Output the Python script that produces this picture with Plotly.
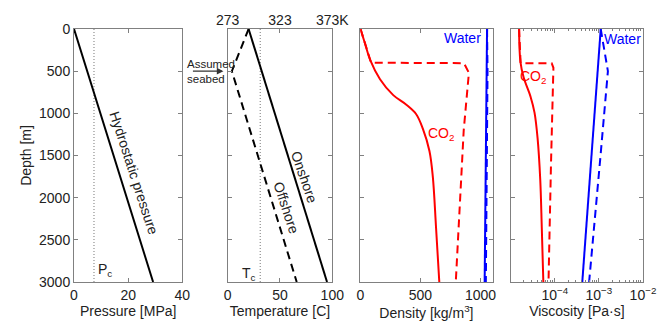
import plotly.graph_objects as go

# ---------------- data ----------------
depth_ticks = [0, 500, 1000, 1500, 2000, 2500, 3000]

# Panel 1: pressure
p_depth = [0, 3000]
p_hydro = [0, 29.2]
P_crit = 7.38

# Panel 2: temperature (C)
t_on_depth = [0, 3000]
t_on = [20, 95]
t_off_depth = [0, 500, 3000]
t_off = [20, 4, 66]
T_crit = 31.1
kelvin_ticks_c = [0, 50, 100]
kelvin_labels = ["273", "323", "373K"]

# Panel 3: density (kg/m3)
rho_co2_on_depth = [0, 180, 367, 595, 784, 898, 1011, 1182, 1447, 1750, 2356, 3000]
rho_co2_on = [2, 41, 82, 164, 274, 383, 465, 520, 575, 603, 630, 657]
rho_co2_off_depth = [0, 180, 367, 400, 405, 520, 1200, 2000, 3000]
rho_co2_off = [2, 41, 82, 90, 862, 903, 860, 828, 794]
rho_w_on_depth = [0, 3000]
rho_w_on = [1054, 1034]
rho_w_off_depth = [0, 500, 3000]
rho_w_off = [1054, 1058, 1044]

# Panel 4: viscosity (Pa s)
mu_co2_on_depth = [0, 386, 576, 803, 992, 1295, 1788, 2356, 3000]
mu_co2_on = [1.55e-5, 1.66e-5, 1.97e-5, 2.82e-5, 3.47e-5, 4.07e-5, 4.68e-5, 5.07e-5, 5.5e-5]
mu_co2_off_depth = [0, 386, 405, 405, 460, 1600, 3000]
mu_co2_off = [1.55e-5, 1.66e-5, 1.68e-5, 8.5e-5, 9.3e-5, 8.2e-5, 7.2e-5]
mu_w_on_depth = [0, 1000, 2000, 3000]
mu_w_on = [1.10e-3, 7.9e-4, 5.75e-4, 4.2e-4]
mu_w_off_depth = [0, 500, 1500, 2250, 3000]
mu_w_off = [1.10e-3, 1.6e-3, 1.09e-3, 8.1e-4, 6.0e-4]
mu_ticks = [1e-4, 1e-3, 1e-2]
mu_labels = ["10<sup>\u22124</sup>", "10<sup>\u22123</sup>", "10<sup>\u22122</sup>"]

# ---------------- style ----------------
FONT = "Liberation Sans, Arial, Helvetica, sans-serif"
TXT = "#222222"
AX = "#808080"
RED = "#ff0000"
BLUE = "#0000ff"
DASH = "8px,5px"
DOT = "1px,2px"
LW = 2

fig = go.Figure()


def line(x, y, xa, ya, color, dash="solid", width=LW, shape="linear"):
    fig.add_trace(go.Scatter(x=x, y=y, xaxis=xa, yaxis=ya, mode="lines",
                             line=dict(color=color, width=width, dash=dash, shape=shape),
                             hoverinfo="skip", showlegend=False))


# panel 1
line([P_crit, P_crit], p_depth, "x", "y", "#777777", dash=DOT, width=1)
line(p_hydro, p_depth, "x", "y", "black")

# panel 2
line([T_crit, T_crit], p_depth, "x2", "y2", "#777777", dash=DOT, width=1)
line(t_on, t_on_depth, "x2", "y2", "black")
line(t_off, t_off_depth, "x2", "y2", "black", dash=DASH)
fig.add_trace(go.Scatter(x=kelvin_ticks_c, y=[None] * len(kelvin_ticks_c), xaxis="x5", yaxis="y2",
                         mode="markers", marker=dict(opacity=0), hoverinfo="skip", showlegend=False))

# panel 3
line(rho_co2_on, rho_co2_on_depth, "x3", "y3", RED, shape="spline")
line(rho_co2_off, rho_co2_off_depth, "x3", "y3", RED, dash=DASH)
line(rho_w_on, rho_w_on_depth, "x3", "y3", BLUE)
line(rho_w_off, rho_w_off_depth, "x3", "y3", BLUE, dash=DASH)

# panel 4
line(mu_co2_on, mu_co2_on_depth, "x4", "y4", RED, shape="spline")
line(mu_co2_off, mu_co2_off_depth, "x4", "y4", RED, dash=DASH)
line(mu_w_on, mu_w_on_depth, "x4", "y4", BLUE)
line(mu_w_off, mu_w_off_depth, "x4", "y4", BLUE, dash=DASH)

# ---------------- layout ----------------
W, H = 672, 329
ML, MR, MT, MB = 74, 23, 26, 39
PW = W - ML - MR


def dom(a, b):
    return [(a - ML) / PW, (b - ML) / PW]


common_x = dict(showgrid=False, zeroline=False, showline=True, linecolor=AX, linewidth=1,
                mirror="ticks", ticks="inside", ticklen=4, tickcolor=AX,
                tickfont=dict(size=14, color=TXT, family=FONT),
                title_font=dict(size=14, color=TXT, family=FONT))
common_y = dict(range=[3000, 0], tickvals=depth_ticks, showgrid=False, zeroline=False,
                showline=True, linecolor=AX, linewidth=1, mirror="ticks", ticks="inside",
                ticklen=4, tickcolor=AX, domain=[0, 1],
                tickfont=dict(size=14, color=TXT, family=FONT),
                title_font=dict(size=14, color=TXT, family=FONT))

fig.update_layout(
    width=W, height=H, margin=dict(l=ML, r=MR, t=MT, b=MB),
    paper_bgcolor="white", plot_bgcolor="white",
    font=dict(family=FONT, size=14, color=TXT),
    xaxis=dict(common_x, domain=dom(74, 183.5), range=[0, 40], tickvals=[0, 20, 40],
               anchor="y", title=dict(text="Pressure [MPa]", standoff=4)),
    yaxis=dict(common_y, anchor="x", title=dict(text="Depth [m]", standoff=4)),
    xaxis2=dict(common_x, domain=dom(229.3, 335), range=[0, 100], tickvals=[0, 50, 100],
                anchor="y2", title=dict(text="Temperature [C]", standoff=4)),
    yaxis2=dict(common_y, anchor="x2", showticklabels=False),
    xaxis3=dict(common_x, domain=dom(363.3, 497), range=[0, 1100], tickvals=[0, 500, 1000],
                anchor="y3", title=dict(text="Density [kg/m<sup>3</sup>]", standoff=4)),
    yaxis3=dict(common_y, anchor="x3", showticklabels=False),
    xaxis4=dict(common_x, domain=dom(515.3, 649), type="log", range=[-5, -2],
                tickvals=mu_ticks, ticktext=mu_labels, anchor="y4",
                minor=dict(ticks="inside", ticklen=2, tickcolor=AX, dtick="D1"),
                title=dict(text="Viscosity [Pa\u00b7s]", standoff=4)),
    yaxis4=dict(common_y, anchor="x4", showticklabels=False),
    xaxis5=dict(overlaying="x2", side="top", anchor="y2", range=[0, 100],
                tickvals=kelvin_ticks_c, ticktext=kelvin_labels, ticks="",
                showline=False, showgrid=False, zeroline=False,
                tickfont=dict(size=14, color=TXT, family=FONT)),
)


def txt(text, x, y, xref, yref, angle=0, color=TXT, size=14, **kw):
    fig.add_annotation(text=text, x=x, y=y, xref=xref, yref=yref, showarrow=False,
                       textangle=angle, font=dict(size=size, color=color, family=FONT), **kw)


txt("Hydrostatic pressure", 22.2, 1705, "x", "y", angle=72)
txt("P<sub>c</sub>", 11.6, 2860, "x", "y")
txt("Onshore", 73.5, 1750, "x2", "y2", angle=71)
txt("Offshore", 56, 2125, "x2", "y2", angle=72)
txt("T<sub>c</sub>", 20.5, 2910, "x2", "y2")
txt("CO<sub>2</sub>", 672, 1240, "x3", "y3", color=RED)
txt("Water", 847, 110, "x3", "y3", color=BLUE)
txt("CO<sub>2</sub>", -4.49, 570, "x4", "y4", color=RED)
txt("Water", -2.46, 121, "x4", "y4", color=BLUE)

# seabed annotation
txt("Assumed<br>seabed", (186 - ML) / PW, 1 - (54 - MT) / (H - MT - MB), "paper", "paper",
    size=11.5, xanchor="left", align="left")
fig.add_annotation(text="", x=(225 - ML) / PW, y=1 - (70 - MT) / (H - MT - MB),
                   xref="paper", yref="paper", showarrow=True, ax=-32, ay=0,
                   arrowhead=2, arrowsize=1.1, arrowwidth=1.2, arrowcolor="#333333")

fig.write_html("out.html")
